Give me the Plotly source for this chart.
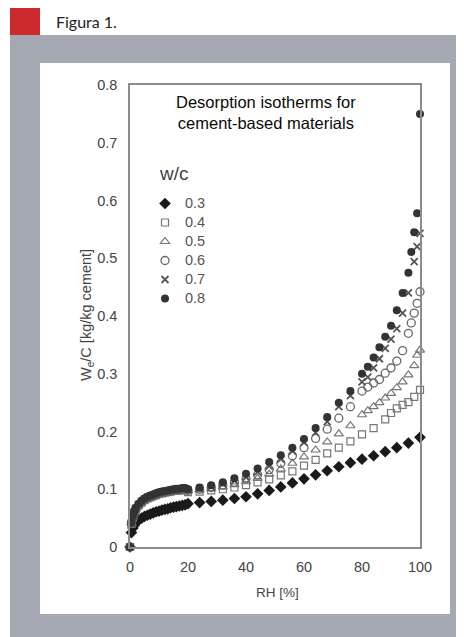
import plotly.graph_objects as go

# ---------------- data ----------------
rh_low = [0, 0.5, 1, 1.5, 2, 3, 4, 5, 6, 7, 8, 9, 10, 11, 12, 13, 14, 15, 16, 17, 18, 19, 20]

# w/c = 0.3
rh_03 = rh_low + [24, 28, 32, 36, 40, 44, 48, 52, 56, 60, 64, 68, 72, 76, 80, 84, 88, 92, 96, 100]
wc_03 = [0, 0.025, 0.033, 0.038, 0.042, 0.047, 0.050, 0.053, 0.055, 0.057, 0.059, 0.061, 0.062,
         0.064, 0.065, 0.066, 0.068, 0.069, 0.070, 0.071, 0.072, 0.073, 0.075,
         0.077, 0.079, 0.081, 0.084, 0.087, 0.092, 0.098, 0.104, 0.111, 0.118, 0.125, 0.132,
         0.139, 0.146, 0.152, 0.158, 0.165, 0.172, 0.180, 0.190]

# w/c = 0.4
rh_04 = rh_low + [24, 28, 32, 36, 40, 44, 48, 52, 56, 60, 64, 68, 72, 76, 80, 84, 88, 90, 92, 94, 96, 98, 100]
wc_04 = [0, 0.040, 0.051, 0.059, 0.065, 0.072, 0.077, 0.081, 0.084, 0.086, 0.088, 0.090, 0.092,
         0.093, 0.094, 0.095, 0.096, 0.097, 0.097, 0.098, 0.098, 0.099, 0.095,
         0.096, 0.098, 0.100, 0.103, 0.107, 0.112, 0.117, 0.124, 0.131, 0.141, 0.151, 0.162,
         0.172, 0.183, 0.195, 0.206, 0.221, 0.232, 0.240, 0.246, 0.251, 0.260, 0.272]

# w/c = 0.5
rh_05 = rh_low + [24, 28, 32, 36, 40, 44, 48, 52, 56, 60, 64, 68, 72, 76, 80, 82, 84, 86, 88, 90, 92, 94, 96, 98, 99, 100]
wc_05 = [0, 0.041, 0.052, 0.060, 0.066, 0.073, 0.078, 0.082, 0.085, 0.087, 0.089, 0.091, 0.093,
         0.094, 0.095, 0.096, 0.097, 0.098, 0.098, 0.099, 0.099, 0.100, 0.097,
         0.099, 0.101, 0.104, 0.108, 0.113, 0.119, 0.126, 0.135, 0.145, 0.156, 0.168, 0.182,
         0.196, 0.210, 0.229, 0.236, 0.243, 0.250, 0.258, 0.266, 0.276, 0.286, 0.298, 0.314,
         0.332, 0.341]

# w/c = 0.6
rh_06 = rh_low + [24, 28, 32, 36, 40, 44, 48, 52, 56, 60, 64, 68, 72, 76, 80, 82, 84, 86, 88, 90, 92, 94, 96, 97, 98, 99, 100]
wc_06 = [0, 0.041, 0.052, 0.060, 0.066, 0.073, 0.078, 0.082, 0.085, 0.087, 0.089, 0.091, 0.093,
         0.094, 0.095, 0.096, 0.097, 0.098, 0.099, 0.099, 0.100, 0.100, 0.098,
         0.100, 0.103, 0.107, 0.112, 0.118, 0.125, 0.134, 0.145, 0.158, 0.172, 0.188, 0.204,
         0.223, 0.243, 0.270, 0.277, 0.284, 0.290, 0.301, 0.310, 0.322, 0.340, 0.370, 0.388,
         0.405, 0.422, 0.442]

# w/c = 0.7
rh_07 = rh_low + [24, 28, 32, 36, 40, 44, 48, 52, 56, 60, 64, 68, 72, 76, 80, 82, 84, 86, 88, 90, 92, 94, 96, 98, 99, 100]
wc_07 = [0, 0.042, 0.053, 0.061, 0.067, 0.074, 0.079, 0.083, 0.086, 0.088, 0.090, 0.092, 0.094,
         0.095, 0.096, 0.097, 0.098, 0.099, 0.100, 0.100, 0.101, 0.101, 0.099,
         0.101, 0.104, 0.109, 0.115, 0.122, 0.130, 0.140, 0.152, 0.166, 0.181, 0.198, 0.217,
         0.243, 0.262, 0.286, 0.294, 0.310, 0.326, 0.344, 0.360, 0.378, 0.405, 0.440, 0.494,
         0.520, 0.543]

# w/c = 0.8
rh_08 = rh_low + [24, 28, 32, 36, 40, 44, 48, 52, 56, 60, 64, 68, 72, 76, 80, 82, 84, 86, 88, 90, 92, 94, 96, 97, 98, 99, 100]
wc_08 = [0, 0.043, 0.054, 0.062, 0.068, 0.075, 0.080, 0.084, 0.087, 0.089, 0.091, 0.093, 0.095,
         0.096, 0.097, 0.098, 0.099, 0.100, 0.101, 0.101, 0.102, 0.102, 0.100,
         0.103, 0.107, 0.112, 0.119, 0.127, 0.136, 0.147, 0.159, 0.172, 0.187, 0.206, 0.225,
         0.250, 0.270, 0.300, 0.312, 0.328, 0.346, 0.364, 0.383, 0.410, 0.440, 0.475, 0.511,
         0.545, 0.578, 0.750]

series_names = ["0.3", "0.4", "0.5", "0.6", "0.7", "0.8"]
x_ticks = [0, 20, 40, 60, 80, 100]
y_ticks = [0, 0.1, 0.2, 0.3, 0.4, 0.5, 0.6, 0.7, 0.8]
y_tick_text = ["0", "0.1", "0.2", "0.3", "0.4", "0.5", "0.6", "0.7", "0.8"]

# ---------------- styles ----------------
styles = [
    dict(symbol="diamond", size=9, color="#1a1a1a", line=dict(width=0)),
    dict(symbol="square-open", size=7, color="#777777", line=dict(width=1.2)),
    dict(symbol="triangle-up-open", size=8, color="#777777", line=dict(width=1.2)),
    dict(symbol="circle-open", size=8, color="#666666", line=dict(width=1.3)),
    dict(symbol="x-thin-open", size=7, color="#555555", line=dict(width=1.8)),
    dict(symbol="circle", size=8, color="#333333", line=dict(width=0)),
]

xs = [rh_03, rh_04, rh_05, rh_06, rh_07, rh_08]
ys = [wc_03, wc_04, wc_05, wc_06, wc_07, wc_08]

fig = go.Figure()
for name, x, y, st in zip(series_names, xs, ys, styles):
    fig.add_trace(go.Scatter(
        x=x, y=y, mode="markers", cliponaxis=False, marker=st,
        name="<span style='font-size:14.5px'>" + name + "</span>"))

W, H = 464, 637
OFF = 8  # page body margin
L, R, T, B = 122, 52, 77, 98
PW, PH = W - L - R, H - T - B

def px(x):  # window pixel -> paper x
    return (x - OFF - L) / PW

def py(y):  # window pixel -> paper y
    return (H - B - (y - OFF)) / PH

shapes = [
    dict(type="rect", xref="paper", yref="paper", x0=px(10), x1=px(480), y0=py(660), y1=py(35),
         fillcolor="#a4a9b4", line=dict(width=0), layer="below"),
    dict(type="rect", xref="paper", yref="paper", x0=px(40), x1=px(450), y0=py(614), y1=py(63),
         fillcolor="#ffffff", line=dict(width=0), layer="below"),
    dict(type="rect", xref="paper", yref="paper", x0=px(10), x1=px(40), y0=py(35), y1=py(8),
         fillcolor="#cc2a2c", line=dict(width=0), layer="below"),
]

FONT = "Liberation Sans, Arial, sans-serif"
annotations = [
    dict(text="Figura 1.", xref="paper", yref="paper", x=px(54), y=py(22), xanchor="left", yanchor="middle",
         showarrow=False, font=dict(size=16, color="#222222", family="Lato, Open Sans, sans-serif")),
    dict(text="Desorption isotherms for<br>cement-based materials", xref="paper", yref="paper",
         x=px(266), y=py(113), xanchor="center", yanchor="middle", showarrow=False,
         font=dict(size=16.5, color="#0a0a0a", family=FONT)),
    dict(text="w/c", xref="paper", yref="paper", x=px(157), y=py(173), xanchor="left", yanchor="middle",
         showarrow=False, font=dict(size=19, color="#444444", family=FONT)),
    dict(text="W<sub>e</sub>/C [kg/kg cement]", xref="paper", yref="paper", x=px(87), y=py(315),
         xanchor="center", yanchor="middle", textangle=-90, showarrow=False,
         font=dict(size=14.5, color="#444444", family=FONT)),
    dict(text="RH [%]", xref="paper", yref="paper", x=px(277), y=py(592), xanchor="center", yanchor="middle",
         showarrow=False, font=dict(size=13.5, color="#444444", family=FONT)),
]

fig.update_layout(
    width=W, height=H,
    margin=dict(l=L, r=R, t=T, b=B, pad=0),
    paper_bgcolor="#ffffff", plot_bgcolor="#ffffff",
    shapes=shapes, annotations=annotations,
    showlegend=True,
    legend=dict(x=px(145), y=py(189), xanchor="left", yanchor="top", bgcolor="rgba(0,0,0,0)",
                font=dict(size=12, color="#555555", family=FONT),
                itemwidth=30, tracegroupgap=0),
    font=dict(family=FONT),
)
fig.update_xaxes(range=[0, 100], tickvals=x_ticks, showgrid=False, zeroline=False, showline=True,
                 mirror=True, linecolor="#8c8c8c", linewidth=1.5, ticks="", ticklabelstandoff=6,
                 tickfont=dict(size=14.5, color="#444444"))
fig.update_yaxes(range=[0, 0.8], tickvals=y_ticks, ticktext=y_tick_text, showgrid=False, zeroline=False,
                 showline=True, mirror=True, linecolor="#8c8c8c", linewidth=1.5, ticks="",
                 ticklabelstandoff=8, tickfont=dict(size=14.5, color="#444444"))

fig.write_html("out.html")
